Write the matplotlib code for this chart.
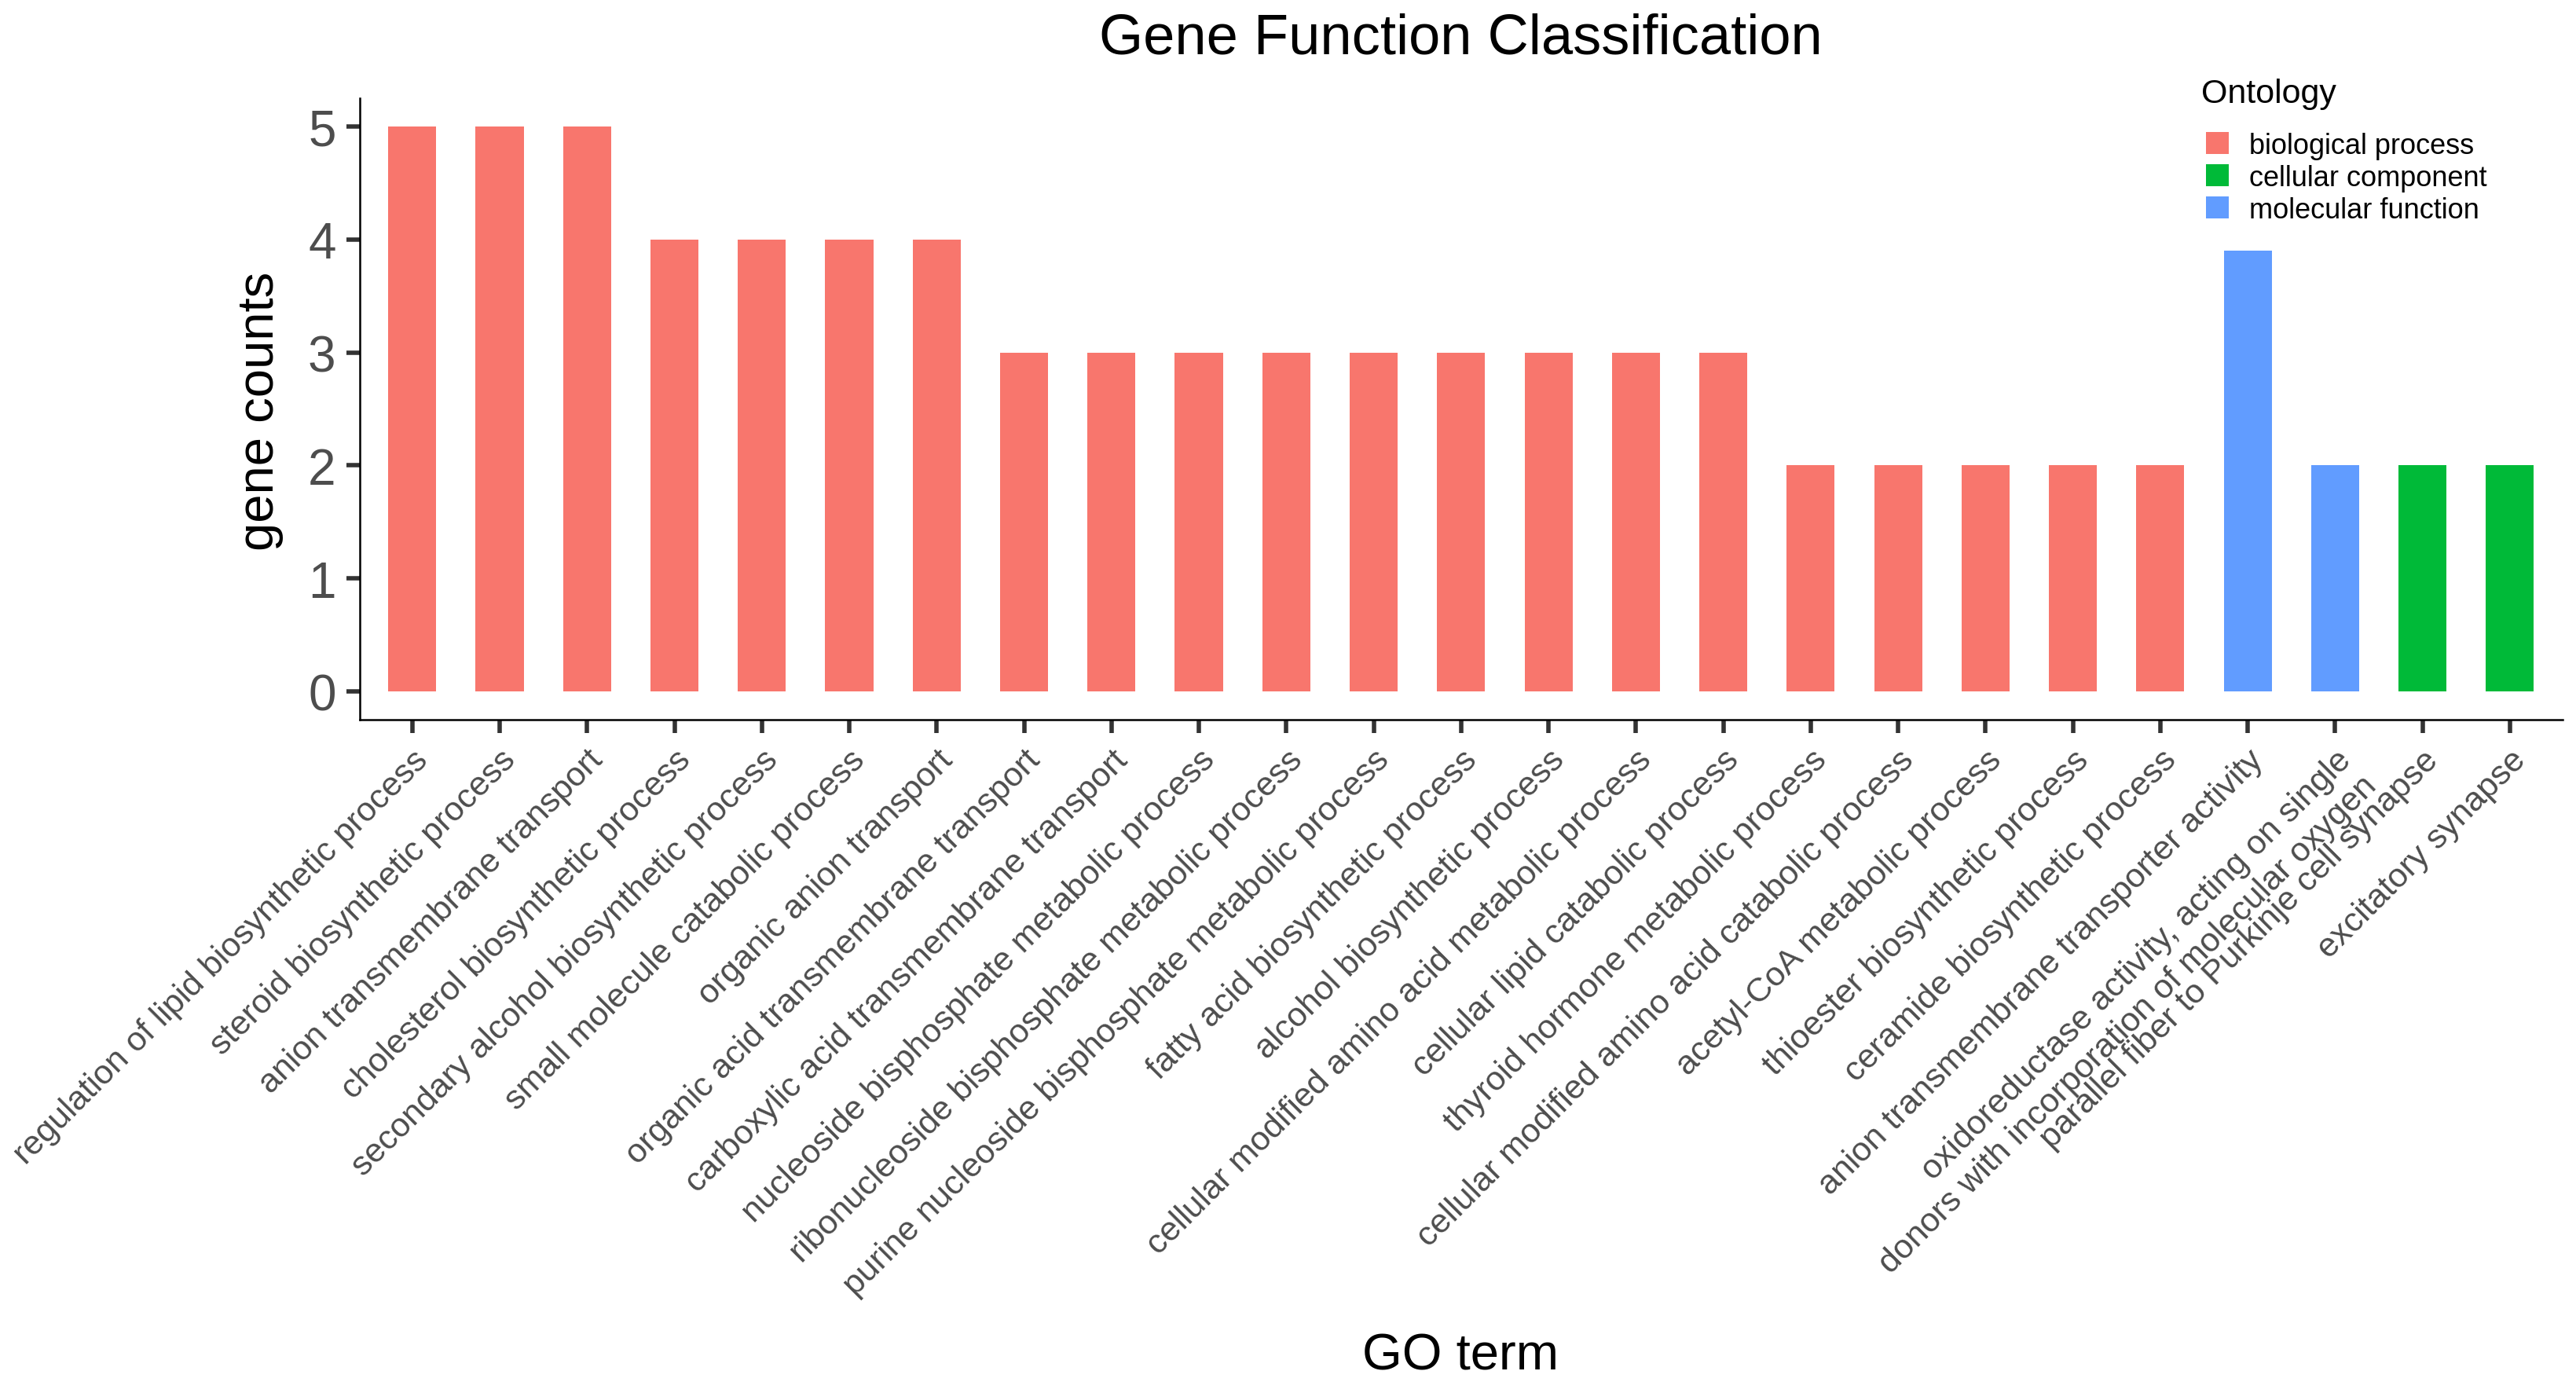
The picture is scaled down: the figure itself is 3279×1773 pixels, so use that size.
import matplotlib.pyplot as plt
from matplotlib.patches import Patch

plt.rcParams['font.family'] = ['Liberation Sans', 'DejaVu Sans']

# GO terms in plotting order
terms = [
    'regulation of lipid biosynthetic process',
    'steroid biosynthetic process',
    'anion transmembrane transport',
    'cholesterol biosynthetic process',
    'secondary alcohol biosynthetic process',
    'small molecule catabolic process',
    'organic anion transport',
    'organic acid transmembrane transport',
    'carboxylic acid transmembrane transport',
    'nucleoside bisphosphate metabolic process',
    'ribonucleoside bisphosphate metabolic process',
    'purine nucleoside bisphosphate metabolic process',
    'fatty acid biosynthetic process',
    'alcohol biosynthetic process',
    'cellular modified amino acid metabolic process',
    'cellular lipid catabolic process',
    'thyroid hormone metabolic process',
    'cellular modified amino acid catabolic process',
    'acetyl-CoA metabolic process',
    'thioester biosynthetic process',
    'ceramide biosynthetic process',
    'anion transmembrane transporter activity',
    'oxidoreductase activity, acting on single\ndonors with incorporation of molecular oxygen',
    'parallel fiber to Purkinje cell synapse',
    'excitatory synapse',
]
counts = [5, 5, 5, 4, 4, 4, 4, 3, 3, 3, 3, 3, 3, 3, 3, 3, 2, 2, 2, 2, 2, 3.9, 2, 2, 2]
ontology = ['biological process'] * 21 + ['molecular function'] * 2 + ['cellular component'] * 2

categories = ['biological process', 'cellular component', 'molecular function']
palette = {'biological process': '#F8766D',
           'cellular component': '#00BA38',
           'molecular function': '#619CFF'}

fig = plt.figure(figsize=(16.395, 8.87), dpi=200)
ax = fig.add_axes([0.1397, 0.483, 0.855, 0.446])

x = list(range(1, len(terms) + 1))
ax.bar(x, counts, width=0.55, color=[palette[o] for o in ontology])

ax.set_xlim(0.4, len(terms) + 0.6)
ax.set_ylim(-0.25, 5.25)
ax.set_yticks([0, 1, 2, 3, 4, 5])
ax.set_xticks(x)
ax.set_xticklabels(terms, rotation=45, ha='right', va='top',
                   rotation_mode='anchor', fontsize=15.5, color='#4D4D4D')

for s in ['top', 'right']:
    ax.spines[s].set_visible(False)
for s in ['left', 'bottom']:
    ax.spines[s].set_linewidth(0.9)
    ax.spines[s].set_color('black')

ax.tick_params(axis='both', length=6, width=2, color='#333333')
ax.tick_params(axis='y', labelsize=23, labelcolor='#4D4D4D', pad=5)
ax.tick_params(axis='x', pad=5)

fig.text(0.567, 0.972, 'Gene Function Classification', ha='center', va='center', fontsize=26)
fig.text(0.101, 0.705, 'gene counts', rotation=90, ha='center', va='center', fontsize=23.5)
fig.text(0.567, 0.027, 'GO term', ha='center', va='center', fontsize=23.5)

# legend title drawn separately so the gap to the keys matches
fig.text(0.8545, 0.9325, 'Ontology', ha='left', va='center', fontsize=15.5)
handles = [Patch(facecolor=palette[c], edgecolor='none', label=c) for c in categories]
leg = fig.legend(handles=handles, loc='upper left',
                 bbox_to_anchor=(0.8565, 0.905), frameon=False, fontsize=13,
                 handlelength=0.8, handleheight=0.8,
                 handletextpad=0.7, labelspacing=0.17,
                 borderaxespad=0, borderpad=0)

fig.savefig('out.png', dpi=200)
